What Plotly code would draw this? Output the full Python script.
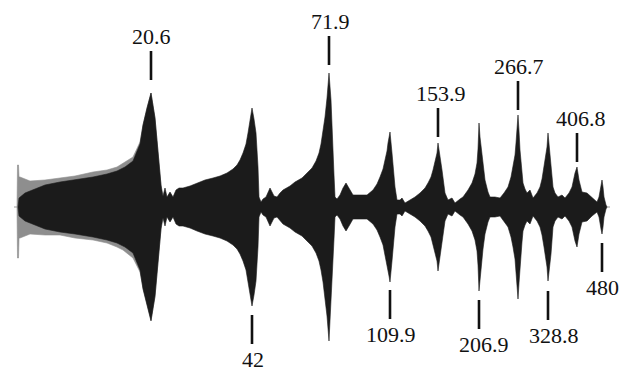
import plotly.graph_objects as go

# ---------------- data (arbitrary time / amplitude units) ----------------
# outer grey envelope of the low-frequency start of the sweep
grey_t   = [17, 17.5, 18.5, 19, 20, 30, 45, 60, 75, 93, 107, 117, 123, 133, 140, 143, 147, 151, 155, 158, 161]
grey_top = [0, 42, 42, 30, 30, 26, 27, 29, 31, 35, 37, 40, 44, 50, 65, 82, 99, 114, 89, 55, 22]
grey_bot = [0, 51, 51, 31, 31, 27, 28, 28, 31, 33, 36, 40, 43, 51, 65, 81, 98, 113, 90, 55, 22]

# dark envelope of the whole response (symmetric about the baseline)
env_t = [18, 19, 25, 35, 45, 60, 75, 93, 107, 117, 125, 133, 140, 143, 147, 151, 155, 158, 161,
         163, 165, 167, 170, 173, 176, 179, 183, 190, 197, 205, 213, 220, 227, 233, 237, 240, 243,
         246, 248, 250, 252, 254, 256, 258, 259, 261, 263, 266, 270, 274, 277, 280, 283, 290, 295,
         302, 308, 312, 316, 319, 321, 323, 325, 327, 329, 331, 332, 334, 335, 337, 340, 343, 346,
         349, 353, 360, 367, 373, 377, 380, 383, 385, 387, 388, 389, 390, 392, 395, 397, 400, 402,
         405, 410, 415, 420, 425, 428, 431, 433, 435, 437, 438, 440, 442, 445, 448, 452, 455, 460,
         463, 468, 472, 475, 477, 478, 479, 480, 481, 483, 485, 488, 490, 495, 500, 504, 508, 511,
         513, 515, 516, 517, 518, 519, 520, 522, 523, 525, 527, 530, 533, 537, 540, 542, 544, 546,
         547, 548, 549, 551, 553, 555, 558, 562, 565, 569, 572, 575, 577, 579, 582, 587, 592, 597,
         599, 600, 601, 602, 603, 604, 606, 607]
env_amp = [0, 9, 14, 18, 22, 25, 27, 30, 33, 36, 40, 46, 63, 82, 99, 114, 89, 55, 22,
           11, 19, 10, 15, 10, 17, 19, 19, 21, 24, 27, 29, 31, 34, 38, 42, 47, 54,
           63, 74, 87, 99, 88, 74, 40, 10, 5, 8, 10, 19, 11, 10, 14, 17, 21, 25,
           29, 35, 39, 46, 54, 63, 75, 90, 109, 134, 107, 75, 32, 10, 8, 12, 19, 24,
           19, 12, 12, 12, 17, 23, 30, 38, 47, 56, 64, 69, 75, 54, 20, 7, 7, 9,
           4, 7, 10, 14, 19, 24, 30, 37, 45, 54, 64, 52, 37, 14, 7, 9, 4, 8,
           10, 17, 24, 33, 44, 58, 84, 70, 60, 42, 27, 15, 10, 10, 9, 14, 20, 30,
           40, 52, 64, 75, 92, 76, 57, 35, 24, 18, 14, 17, 9, 14, 20, 28, 40, 52,
           60, 74, 62, 47, 20, 14, 10, 12, 9, 14, 20, 34, 40, 27, 15, 14, 9, 5,
           10, 17, 22, 27, 20, 10, 2, 0]

# resonance labels (Hz) and the time of each resonance peak
label_text = ["20.6", "42", "71.9", "109.9", "153.9", "206.9", "266.7", "328.8", "406.8", "480"]
label_t    = [151, 252, 329, 390, 438, 479, 518, 548, 577, 602]
label_side = ["top", "bottom", "top", "bottom", "top", "bottom", "top", "bottom", "top", "bottom"]

# ---------------- styling / placement ----------------
tick_near = [127, 108, 142, 83, 70, 93, 97, 84, 45, 36]   # distance of tick start from baseline
TICK_LEN = 29
LABEL_GAP = 15
label_dx = [0, 1, 1, 1, 3, 5, 1, 6, 4, 0]

DARK = "#1b1b1b"
GREY = "#8e8e8e"
FONT = "Liberation Serif"

fig = go.Figure()

# baseline
fig.add_trace(go.Scatter(x=[14, 610], y=[0, 0], mode="lines",
                         line=dict(color="#9a9a9a", width=1), hoverinfo="skip"))

# grey outer envelope
fig.add_trace(go.Scatter(x=grey_t + grey_t[::-1],
                         y=grey_top + [-v for v in grey_bot[::-1]],
                         fill="toself", fillcolor=GREY, mode="lines",
                         line=dict(color=GREY, width=0.6), hoverinfo="skip"))

# dark envelope
fig.add_trace(go.Scatter(x=env_t + env_t[::-1],
                         y=env_amp + [-v for v in env_amp[::-1]],
                         fill="toself", fillcolor=DARK, mode="lines",
                         line=dict(color=DARK, width=0.6), hoverinfo="skip"))

# label ticks
tx, ty = [], []
for t, side, near in zip(label_t, label_side, tick_near):
    s = 1 if side == "top" else -1
    tx += [t, t, None]
    ty += [s * near, s * (near + TICK_LEN), None]
fig.add_trace(go.Scatter(x=tx, y=ty, mode="lines",
                         line=dict(color="#111111", width=2.6), hoverinfo="skip"))

for txt, t, side, near, dx in zip(label_text, label_t, label_side, tick_near, label_dx):
    s = 1 if side == "top" else -1
    fig.add_annotation(x=t + dx, y=s * (near + TICK_LEN + LABEL_GAP), text=txt,
                       showarrow=False, xanchor="center", yanchor="middle",
                       font=dict(family=FONT, size=22, color="#111111"))

# the page body adds an 8 px margin, so the figure is 8 px smaller and its
# axis ranges are offset to keep the drawing where the reference has it
fig.update_layout(
    width=624, height=366,
    margin=dict(l=0, r=0, t=0, b=0),
    paper_bgcolor="white", plot_bgcolor="white",
    showlegend=False,
    xaxis=dict(range=[8, 632], visible=False, fixedrange=True),
    yaxis=dict(range=[-167, 199], visible=False, fixedrange=True),
)

fig.write_html("out.html")
